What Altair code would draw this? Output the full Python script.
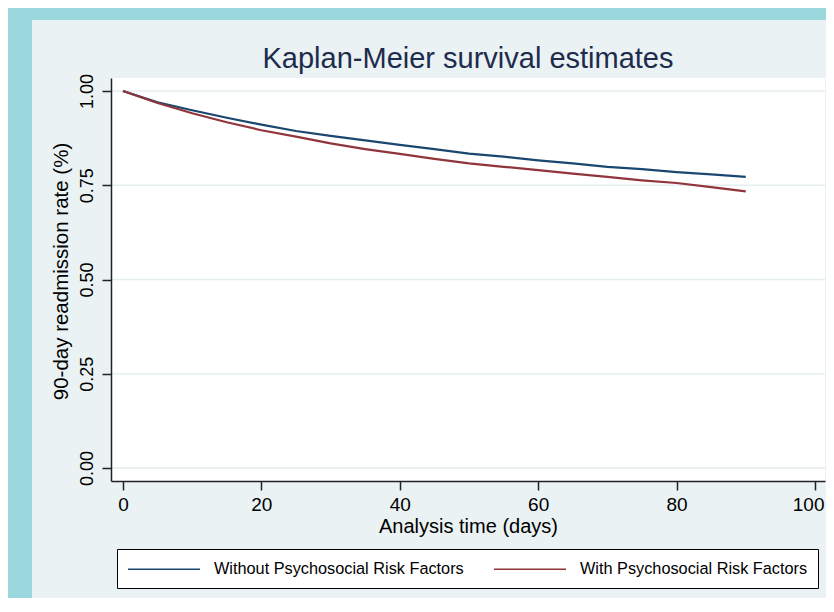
import altair as alt
import pandas as pd

# ---- data ----
days = [0, 5, 10, 15, 20, 25, 30, 35, 40, 45, 50, 55, 60, 65, 70, 75, 80, 85, 90]
without_prf = [1.000, 0.970, 0.949, 0.929, 0.911, 0.894, 0.881, 0.869, 0.857, 0.846,
               0.834, 0.826, 0.816, 0.808, 0.799, 0.793, 0.785, 0.779, 0.772]
with_prf = [1.000, 0.968, 0.941, 0.917, 0.896, 0.879, 0.861, 0.846, 0.833, 0.820,
            0.808, 0.799, 0.790, 0.781, 0.772, 0.763, 0.756, 0.745, 0.734]
series_names = ["Without Psychosocial Risk Factors", "With Psychosocial Risk Factors"]
series_colors = ["#1A476F", "#90353B"]
x_ticks = [0, 20, 40, 60, 80, 100]
y_ticks = [0.0, 0.25, 0.50, 0.75, 1.00]

rows = []
for d, a, b in zip(days, without_prf, with_prf):
    rows.append({"t": d, "s": a, "group": series_names[0]})
    rows.append({"t": d, "s": b, "group": series_names[1]})
df = pd.DataFrame(rows)

W, H = 714, 403
FONT = "Liberation Sans"

xscale = alt.Scale(domain=[-1.73, 101.45], nice=False, zero=False)
yscale = alt.Scale(domain=[-0.0345, 1.0345], nice=False, zero=False)

x_axis = alt.Axis(
    values=x_ticks, title="Analysis time (days)", grid=False, zindex=1,
    labelFont=FONT, labelFontSize=19, labelColor="black", labelPadding=5,
    labelFlush=11, labelFlushOffset=9, tickSize=9, tickWidth=1.5,
    tickColor="#222", domainColor="#222", domainWidth=1.5,
    titleFont=FONT, titleFontSize=20, titleFontWeight="normal",
    titleColor="black", titlePadding=2,
)
y_axis = alt.Axis(
    values=y_ticks, format=".2f", title="90-day readmission rate (%)",
    grid=False, zindex=1, labelAngle=270, labelAlign="center",
    labelBaseline="bottom", labelFont=FONT, labelFontSize=18,
    labelColor="black", labelPadding=6, labelFlush=False,
    tickSize=9, tickWidth=1.5, tickColor="#222",
    domainColor="#222", domainWidth=1.5,
    titleFont=FONT, titleFontSize=20.5, titleFontWeight="normal",
    titleColor="black", titlePadding=7, titleY=193,
)

one = alt.Data(values=[{"a": 1}])
inner_bg = alt.Chart(one).mark_rect(color="#EAF2F3").encode(
    x=alt.value(-79), x2=alt.value(730), y=alt.value(-58), y2=alt.value(530)
)
plot_bg = alt.Chart(one).mark_rect(color="white").encode(
    x=alt.value(0), x2=alt.value(W), y=alt.value(0), y2=alt.value(H)
)
grid = alt.Chart(pd.DataFrame({"s": y_ticks})).mark_rule(
    color="#E4EDEF", strokeWidth=1.5
).encode(
    y=alt.Y("s:Q", scale=yscale, axis=y_axis),
    x=alt.value(0), x2=alt.value(W)
)

lines = alt.Chart(df).mark_line(strokeWidth=2.2).encode(
    x=alt.X("t:Q", scale=xscale, axis=x_axis),
    y=alt.Y("s:Q", scale=yscale, axis=y_axis),
    color=alt.Color(
        "group:N",
        scale=alt.Scale(domain=series_names, range=series_colors),
        legend=alt.Legend(
            title=None, orient="none", legendX=6, legendY=471,
            direction="horizontal", symbolType="M-1,0H7", symbolSize=324,
            symbolStrokeWidth=1.5, labelFont=FONT, labelFontSize=16.3,
            labelColor="black", labelOffset=67, labelLimit=400,
            columnPadding=27, padding=10, fillColor="white",
            strokeColor="black",
        ),
    ),
)

chart = alt.layer(inner_bg, plot_bg, grid, lines).properties(
    width=W, height=H,
    title=alt.Title(
        "Kaplan-Meier survival estimates", font=FONT, fontSize=29,
        fontWeight="normal", color="#1D2C4C", anchor="middle",
        frame="group", offset=4, dy=58,
    ),
    padding={"left": 103, "top": 70, "right": 1, "bottom": 117},
    autosize=alt.AutoSizeParams(type="none"),
    background="#9AD8DE",
).configure_view(stroke=None)

chart.save("out.html", embed_options={"renderer": "svg", "actions": False})
